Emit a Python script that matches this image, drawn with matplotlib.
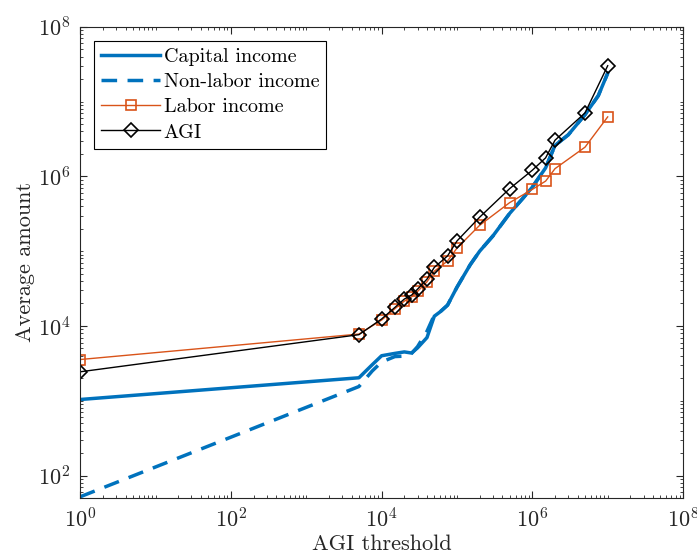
import numpy as np
import matplotlib
matplotlib.use("Agg")
import matplotlib.pyplot as plt
from matplotlib.ticker import LogLocator, NullFormatter

plt.rcParams['font.family'] = 'cmr10'
plt.rcParams['mathtext.fontset'] = 'cm'
plt.rcParams['axes.formatter.use_mathtext'] = True

# AGI thresholds for the marker series
thresholds = [1, 5e3, 1e4, 1.5e4, 2e4, 2.5e4, 3e4, 4e4, 5e4, 7.5e4, 1e5,
              2e5, 5e5, 1e6, 1.5e6, 2e6, 5e6, 1e7]
agi = [2440, 7650, 12400, 17700, 22900, 25900, 31100, 42300, 60700, 86500,
       137000, 285000, 686000, 1.21e6, 1.77e6, 3.05e6, 7.06e6, 3.02e7]
labor = [3560, 7800, 12000, 17000, 21500, 24500, 29000, 39000, 54000, 74000,
         110000, 222000, 446000, 671000, 865000, 1.27e6, 2.46e6, 6.25e6]

# finer threshold grid for the capital / non-labor curves
cap_x = [1, 5e3, 7.5e3, 1e4, 1.5e4, 2e4, 2.5e4, 3e4, 4e4, 5e4, 6e4, 7.5e4,
         1e5, 1.5e5, 2e5, 3e5, 5e5, 7.5e5, 1e6, 1.5e6, 2e6, 3e6, 5e6, 7.5e6, 1e7]
capital = [1040, 2030, 3030, 4000, 4300, 4500, 4350, 5100, 7000, 13500, 15500,
           19000, 33000, 66000, 100000, 160000, 320000, 510000, 720000,
           1.3e6, 2.6e6, 3.6e6, 6.7e6, 1.2e7, 2.4e7]
nonlabor = [52, 1550, 2500, 3300, 3900, 3950, 4300, 5300, 8500, 14000, 15500,
            19000, 33000, 66000, 100000, 160000, 320000, 510000, 720000,
            1.3e6, 2.6e6, 3.6e6, 6.7e6, 1.2e7, 2.4e7]

blue = '#0072BD'
orange = '#D95319'
axcol = '#262626'

fig = plt.figure(figsize=(6.97, 5.59), dpi=100)
ax = fig.add_axes([0.115, 0.109, 0.865, 0.843])

ax.loglog(cap_x, capital, color=blue, lw=2.5, label='Capital income')
ax.loglog(cap_x, nonlabor, color=blue, lw=2.5, dashes=(4.5, 3),
          label='Non-labor income')
ax.loglog(thresholds, labor, color=orange, lw=1.0, marker='s', ms=7,
          mfc='none', mew=1.2, label='Labor income')
ax.loglog(thresholds, agi, color='k', lw=1.0, marker='D', ms=7,
          mfc='none', mew=1.2, label='AGI')

ax.set_xlim(1, 1e8)
ax.set_ylim(50, 1e8)

ax.xaxis.set_major_locator(LogLocator(base=100, numticks=10))
ax.yaxis.set_major_locator(LogLocator(base=100, numticks=10))
ax.xaxis.set_minor_locator(LogLocator(base=10, subs=np.arange(1, 10), numticks=100))
ax.yaxis.set_minor_locator(LogLocator(base=10, subs=np.arange(1, 10), numticks=100))
ax.xaxis.set_minor_formatter(NullFormatter())
ax.yaxis.set_minor_formatter(NullFormatter())

ax.tick_params(which='both', direction='in', top=True, right=True,
               color=axcol, labelcolor=axcol, labelsize=16)
ax.tick_params(which='major', length=5, pad=7)
ax.tick_params(which='minor', length=2.5)
for s in ax.spines.values():
    s.set_color(axcol)
    s.set_linewidth(0.8)

ax.set_xlabel('AGI threshold', fontsize=16, color=axcol, labelpad=2)
ax.set_ylabel('Average amount', fontsize=16, color=axcol, labelpad=2)

leg = ax.legend(loc='upper left', fontsize=14.5, handlelength=2.9,
                handletextpad=0.2, borderpad=0.35, labelspacing=0.35,
                fancybox=False, framealpha=1, edgecolor='k',
                borderaxespad=0.7)
leg.get_frame().set_linewidth(0.8)

fig.savefig('out.png', dpi=100)
